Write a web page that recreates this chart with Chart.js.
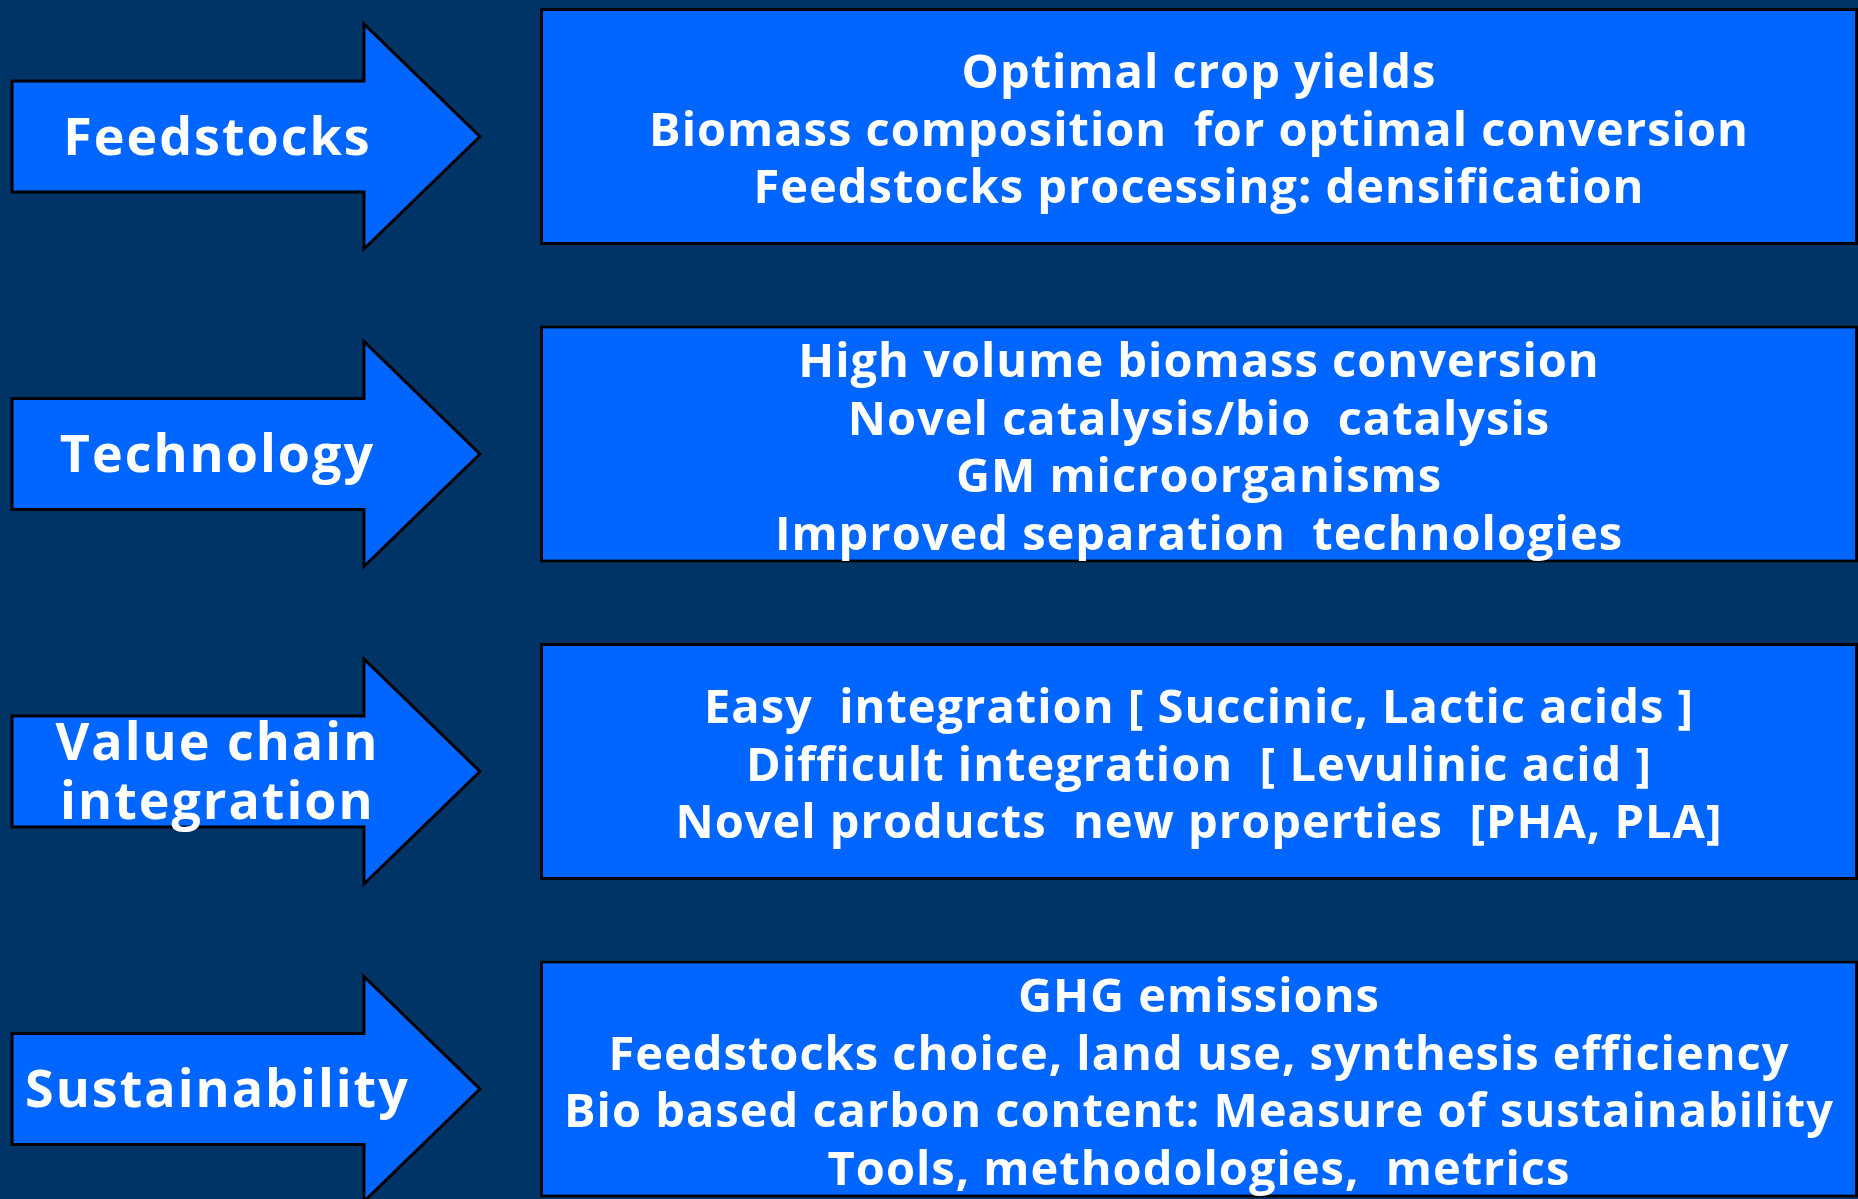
<!DOCTYPE html>
<html>
<head>
<meta charset="utf-8">
<title>Feedstocks / Technology / Value chain / Sustainability</title>
<script src="https://cdn.jsdelivr.net/npm/chart.js@4.4.1/dist/chart.umd.min.js"></script>
<style>
  html, body { margin: 0; padding: 0; background: #003366; }
  #diagrama { display: block; }
</style>
</head>
<body>
<canvas id="diagrama" width="1858" height="1199"></canvas>
<script>
// filas del diagrama (una flecha + una caja por fila)
const categorias = ['Feedstocks', 'Technology', 'Value chain integration', 'Sustainability']
const etiquetas = [['Feedstocks'], ['Technology'], ['Value chain', 'integration'], ['Sustainability']]

// eje x en % del ancho
const cajaInicio = [29.06, 29.06, 29.06, 29.06]
const cajaFin = [100, 100, 100, 100]
const flechaInicio = [0.65, 0.65, 0.65, 0.65]
const flechaCuerpo = [19.59, 19.59, 19.59, 19.59]
const flechaPunta = [25.83, 25.83, 25.83, 25.83]

const textos = [
    ['Optimal crop yields',
     'Biomass composition  for optimal conversion',
     'Feedstocks processing: densification'],
    ['High volume biomass conversion',
     'Novel catalysis/bio  catalysis',
     'GM microorganisms',
     'Improved separation  technologies'],
    ['Easy  integration [ Succinic, Lactic acids ]',
     'Difficult integration  [ Levulinic acid ]',
     'Novel products  new properties  [PHA, PLA]'],
    ['GHG emissions',
     'Feedstocks choice, land use, synthesis efficiency',
     'Bio based carbon content: Measure of sustainability',
     'Tools, methodologies,  metrics']
]

const fondo = {
    id: 'fondo',
    beforeDraw(chart) {
        const ctx = chart.ctx
        ctx.save()
        ctx.fillStyle = '#003366'
        ctx.fillRect(0, 0, chart.width, chart.height)
        ctx.restore()
    }
}

const flechas = {
    id: 'flechas',
    beforeDatasetsDraw(chart, args, opts) {
        const ctx = chart.ctx
        const x = chart.scales.x
        const y = chart.scales.y
        ctx.save()
        categorias.forEach((c, i) => {
            const cy = y.getPixelForValue(i) + opts.desfase
            const x0 = x.getPixelForValue(flechaInicio[i])
            const x1 = x.getPixelForValue(flechaCuerpo[i])
            const x2 = x.getPixelForValue(flechaPunta[i])
            const b = opts.cuerpo / 2
            const h = opts.cabeza / 2
            ctx.beginPath()
            ctx.moveTo(x0, cy - b)
            ctx.lineTo(x1, cy - b)
            ctx.lineTo(x1, cy - h)
            ctx.lineTo(x2, cy)
            ctx.lineTo(x1, cy + h)
            ctx.lineTo(x1, cy + b)
            ctx.lineTo(x0, cy + b)
            ctx.closePath()
            ctx.fillStyle = opts.color
            ctx.fill()
            ctx.lineWidth = opts.borde
            ctx.strokeStyle = '#000000'
            ctx.lineJoin = 'miter'
            ctx.stroke()
        })
        ctx.restore()
    },
    afterDatasetsDraw(chart, args, opts) {
        const ctx = chart.ctx
        const x = chart.scales.x
        const y = chart.scales.y
        ctx.save()
        ctx.fillStyle = '#ffffff'
        ctx.textAlign = 'center'
        ctx.textBaseline = 'middle'

        // etiquetas de las flechas
        ctx.font = opts.fuenteFlecha
        ctx.letterSpacing = '2px'
        etiquetas.forEach((lineas, i) => {
            const cy = y.getPixelForValue(i) + opts.desfaseEtiqueta
            const cx = x.getPixelForValue(opts.centroEtiqueta)
            lineas.forEach((t, j) => {
                ctx.fillText(t, cx, cy + (j - (lineas.length - 1) / 2) * opts.interlineaFlecha)
            })
        })

        // texto de las cajas
        ctx.font = opts.fuenteCaja
        ctx.letterSpacing = '1px'
        textos.forEach((lineas, i) => {
            const cy = y.getPixelForValue(i) + opts.desfaseTexto
            const cx = x.getPixelForValue((cajaInicio[i] + cajaFin[i]) / 2)
            lineas.forEach((t, j) => {
                ctx.fillText(t, cx, cy + (j - (lineas.length - 1) / 2) * opts.interlinea)
            })
        })
        ctx.restore()
    }
}

const ctx = document.getElementById('diagrama')
let grafico = new Chart(ctx, {
    type: 'bar',
    data: {
        labels: categorias,
        datasets: [{
            data: cajaInicio.map((v, i) => [v, cajaFin[i]]),
            backgroundColor: '#0066ff',
            borderColor: '#000000',
            borderWidth: 3,
            borderSkipped: false,
            categoryPercentage: 0.746,
            barPercentage: 1,
            clip: false
        }]
    },
    options: {
        indexAxis: 'y',
        responsive: false,
        devicePixelRatio: 1,
        animation: false,
        layout: { padding: { top: 126.5, bottom: 120, left: 0, right: 0 } },
        scales: {
            x: { type: 'linear', min: 0, max: 100, display: false },
            y: { type: 'category', offset: false, display: false }
        },
        plugins: {
            legend: { display: false },
            tooltip: { enabled: false },
            flechas: {
                color: '#0066ff',
                borde: 3,
                desfase: 10,
                cuerpo: 111,
                cabeza: 225,
                centroEtiqueta: 11.7,
                desfaseEtiqueta: 13.5,
                fuenteFlecha: 'bold 52px "Open Sans"',
                interlineaFlecha: 59,
                fuenteCaja: 'bold 47px "Open Sans"',
                interlinea: 57.5,
                desfaseTexto: 6
            }
        }
    },
    plugins: [fondo, flechas]
});
</script>
</body>
</html>
